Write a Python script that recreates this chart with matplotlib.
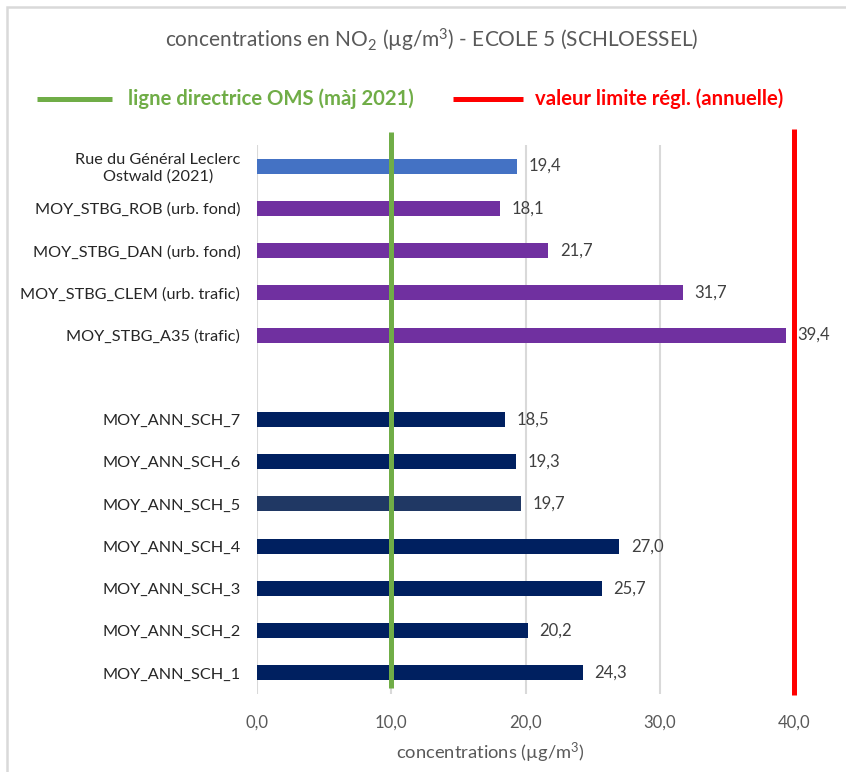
import numpy as np
import matplotlib
matplotlib.use("Agg")
import matplotlib.pyplot as plt
import matplotlib.transforms as mtransforms
from matplotlib.patches import Rectangle

plt.rcParams['font.family'] = ['Lato', 'DejaVu Sans']
plt.rcParams['mathtext.fontset'] = 'custom'
plt.rcParams['mathtext.rm'] = 'Lato'
plt.rcParams['mathtext.it'] = 'Lato:italic'
plt.rcParams['mathtext.bf'] = 'Lato:bold'

# Sites, top to bottom ("" marks the spacer row between the two groups)
categories = [
    "Rue du Général Leclerc\nOstwald (2021)",
    "MOY_STBG_ROB (urb. fond)",
    "MOY_STBG_DAN (urb. fond)",
    "MOY_STBG_CLEM (urb. trafic)",
    "MOY_STBG_A35 (trafic)",
    "",
    "MOY_ANN_SCH_7",
    "MOY_ANN_SCH_6",
    "MOY_ANN_SCH_5",
    "MOY_ANN_SCH_4",
    "MOY_ANN_SCH_3",
    "MOY_ANN_SCH_2",
    "MOY_ANN_SCH_1",
]
values = [19.4, 18.1, 21.7, 31.7, 39.4, np.nan,
          18.5, 19.3, 19.7, 27.0, 25.7, 20.2, 24.3]
bar_colors = ["#4472C4", "#7030A0", "#7030A0", "#7030A0", "#7030A0", "none",
              "#002060", "#002060", "#203864", "#002060", "#002060", "#002060", "#002060"]
x_ticks = [0, 10, 20, 30, 40]
oms_guideline = 10.0
limit_value = 40.0

fig = plt.figure(figsize=(8.46, 7.72), dpi=100)
fig.patch.set_facecolor("white")

# light frame around the chart area
fig.patches.append(Rectangle((7 / 846, -0.05), 1.2, 1 - 7 / 772 + 0.05,
                             transform=fig.transFigure, fill=False,
                             edgecolor="#d9d9d9", linewidth=1.8))

ax = fig.add_axes([257 / 846, 1 - 694 / 772, (794 - 257) / 846, (694 - 145) / 772])

y = np.arange(len(categories))
for yi, v, c in zip(y, values, bar_colors):
    if np.isnan(v):
        continue
    ax.barh(yi, v, height=0.355, color=c, zorder=2)
    ax.text(v + 0.85, yi, f"{v:.1f}".replace(".", ","), va="center", ha="left",
            fontsize=12, color="#404040", zorder=4)

ax.set_ylim(len(categories) - 0.5, -0.5)
ax.set_xlim(0, 40)
ax.set_yticks(y)
ax.set_yticklabels(categories, fontsize=11.7, color="#262626", multialignment="center")
ax.set_xticks(x_ticks)
ax.set_xticklabels([f"{t:.1f}".replace(".", ",") for t in x_ticks], fontsize=12, color="#595959")
ax.tick_params(axis="both", length=0)
ax.tick_params(axis="y", pad=12)
ax.tick_params(axis="x", pad=15)

for s in ["top", "right", "bottom", "left"]:
    ax.spines[s].set_visible(False)
ax.grid(axis="x", color="#d9d9d9", linewidth=1.5, zorder=0)
ax.set_axisbelow(True)

ax.set_xlabel("concentrations (µg/m$^{3}$)", fontsize=13.2, color="#595959")
ax.xaxis.set_label_coords((490 - 257) / (794 - 257), -(753 - 694) / (694 - 145))
ax.xaxis.label.set_va("center")

# reference lines
blend = mtransforms.blended_transform_factory(ax.transData, ax.transAxes)
ax.plot([oms_guideline, oms_guideline], [0.011, 1.0237], transform=blend,
        color="#70AD47", linewidth=3.6, clip_on=False, zorder=3, solid_capstyle="butt")
ax.plot([limit_value, limit_value], [-0.002, 1.029], transform=blend,
        color="#FF0000", linewidth=3.6, clip_on=False, zorder=3, solid_capstyle="butt")

# title
fig.text(432 / 846, 1 - 40 / 772, "concentrations en NO$_{2}$ (µg/m$^{3}$) - ECOLE 5 (SCHLOESSEL)",
         ha="center", va="center", fontsize=15, color="#595959")

# legend for the reference lines
ly = 1 - 99 / 772
fig.add_artist(plt.Line2D([37 / 846, 112 / 846], [ly, ly], color="#70AD47", linewidth=3.6,
                          transform=fig.transFigure, solid_capstyle="butt"))
fig.text(128 / 846, ly, "ligne directrice OMS (màj 2021)", ha="left", va="center",
         fontsize=14.6, fontweight="bold", color="#70AD47")
fig.add_artist(plt.Line2D([453 / 846, 523 / 846], [ly, ly], color="#FF0000", linewidth=3.6,
                          transform=fig.transFigure, solid_capstyle="butt"))
fig.text(535 / 846, ly, "valeur limite régl. (annuelle)", ha="left", va="center",
         fontsize=14.6, fontweight="bold", color="#FF0000")

fig.savefig("out.png", dpi=100, facecolor="white")
